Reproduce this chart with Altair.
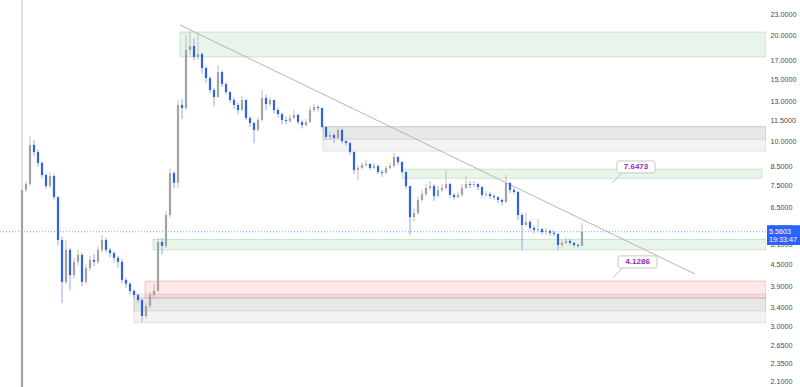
import altair as alt
import pandas as pd

# ---------------- candle data ----------------
close = [
    7.30, 7.59, 9.79, 9.35, 8.71, 8.05, 7.49, 8.00, 6.97, 5.27,
    4.01, 4.94, 4.19, 4.57, 4.78, 4.01, 4.39, 4.63, 4.57, 4.94,
    5.27, 4.94, 4.84, 4.69, 4.57, 4.06, 3.96, 3.78, 3.68, 3.56,
    3.21, 3.43, 3.68, 3.78, 5.20, 5.07, 6.20, 8.15, 7.65, 12.71,
    12.46, 18.19, 18.67, 17.38, 17.72, 16.17, 15.15, 14.01, 13.39, 15.75,
    14.58, 13.83, 13.13, 12.71, 12.30, 13.13, 11.68, 11.30, 10.80, 11.52,
    13.30, 12.79, 13.13, 12.30, 11.98, 11.52, 11.45, 11.68, 11.91, 11.37,
    11.15, 11.37, 12.30, 12.54, 12.46, 11.01, 10.32, 10.45, 10.25, 10.80,
    10.04, 9.91, 9.35, 8.32, 8.43, 8.59, 8.65, 8.43, 8.54, 8.21,
    8.16, 8.43, 8.54, 9.05, 8.76, 8.21, 7.49, 6.12, 6.28, 6.84,
    7.11, 7.40, 7.49, 7.02, 7.30, 7.40, 7.59, 7.07, 6.97, 7.07,
    7.40, 7.59, 7.54, 7.59, 7.44, 7.07, 7.11, 7.02, 6.97, 6.84,
    6.75, 7.64, 7.30, 7.21, 6.20, 5.81, 5.93, 5.70, 5.63, 5.66,
    5.55, 5.59, 5.52, 5.48, 5.10, 5.17, 5.24, 5.17, 5.10, 5.07,
    5.5603,
]
high = [
    30.0, 7.75, 10.35, 10.10, 9.50, 8.80, 8.15, 8.20, 8.10, 7.00,
    5.40, 5.25, 5.00, 4.70, 4.95, 4.85, 4.50, 4.75, 4.80, 5.05,
    5.45, 5.35, 5.00, 4.90, 4.75, 4.65, 4.12, 4.00, 3.82, 3.72,
    3.60, 3.50, 3.75, 3.95, 5.35, 5.35, 6.35, 8.40, 8.25, 13.10,
    13.20, 20.06, 20.60, 19.60, 20.40, 17.90, 16.40, 15.30, 14.20, 16.50,
    15.90, 14.70, 13.90, 13.30, 12.90, 13.50, 13.20, 11.80, 11.40, 11.70,
    14.00, 13.60, 13.40, 13.20, 12.50, 12.10, 11.80, 11.90, 12.30, 12.00,
    11.50, 11.60, 12.60, 12.80, 12.70, 12.50, 11.10, 10.70, 10.60, 11.00,
    10.90, 10.10, 10.00, 9.40, 8.60, 8.75, 8.90, 8.70, 8.70, 8.60,
    8.30, 8.55, 8.70, 9.30, 9.10, 8.80, 8.25, 7.50, 6.50, 7.00,
    7.30, 7.60, 7.75, 7.60, 7.50, 7.60, 8.30, 7.65, 7.15, 7.20,
    7.60, 8.00, 7.75, 7.75, 7.65, 7.50, 7.25, 7.20, 7.10, 7.00,
    6.90, 8.05, 7.70, 7.40, 7.25, 6.30, 6.30, 6.00, 5.80, 6.05,
    5.70, 5.70, 5.65, 5.60, 5.50, 5.30, 5.35, 5.30, 5.20, 5.15,
    5.89,
]
low = [
    1.00, 7.20, 7.50, 9.10, 8.50, 7.90, 7.35, 7.40, 6.85, 5.10,
    3.49, 3.95, 3.80, 4.10, 4.45, 3.90, 3.95, 4.30, 4.45, 4.50,
    4.85, 4.85, 4.70, 4.55, 4.40, 3.98, 3.85, 3.70, 3.60, 3.50,
    3.09, 3.15, 3.38, 3.60, 3.75, 4.80, 5.00, 6.10, 7.40, 7.40,
    11.60, 12.30, 17.60, 17.00, 17.10, 15.60, 14.70, 13.70, 12.60, 13.30,
    14.30, 13.60, 12.90, 12.40, 12.00, 12.20, 11.50, 11.00, 9.90, 10.70,
    11.40, 12.30, 12.60, 12.00, 11.70, 11.20, 11.20, 11.30, 11.60, 11.20,
    10.90, 11.00, 11.30, 12.10, 12.20, 10.90, 10.10, 10.10, 9.90, 10.20,
    9.90, 9.75, 9.20, 8.10, 7.80, 8.35, 8.50, 8.30, 8.35, 8.10,
    7.95, 8.10, 8.35, 8.45, 8.60, 8.10, 7.35, 5.44, 5.95, 6.20,
    6.75, 7.00, 7.30, 6.80, 6.95, 7.20, 7.30, 6.95, 6.85, 6.90,
    7.00, 7.35, 7.40, 7.45, 7.30, 6.95, 6.98, 6.90, 6.85, 6.70,
    6.60, 6.70, 7.15, 7.10, 6.00, 4.94, 5.75, 5.60, 5.50, 5.55,
    5.45, 5.45, 5.42, 5.40, 4.94, 5.02, 5.12, 5.10, 5.02, 5.00,
    5.05,
]
first_open = 2.0
last_price = 5.5603
last_time = "19:33:47"

# ---------------- drawings ----------------
zone_start = [39.5, 75.25, 75.25, 95.0, 32.75, 28.0, 28.0, 30.75]
zone_end = [186.0, 186.0, 186.0, 185.0, 186.0, 186.0, 186.0, 186.0]
zone_low = [17.38, 9.41, 10.16, 7.88, 4.94, 3.07, 3.32, 3.61]
zone_high = [20.45, 11.03, 11.03, 8.36, 5.29, 3.70, 3.61, 4.03]
zone_kind = ["green", "gray", "gray", "green", "green", "gray", "gray", "red"]

trend_i = [39.5, 168.25]
trend_p = [21.41, 4.22]

callout_text = ["7.6473", "4.1286"]
callout_tip_p = [7.6473, 4.1286]
callout_tip_i = [147.6, 147.75]
callout_tail_i = [150.0, 150.25]
callout_box_i0 = [148.75, 149.0]
callout_box_i1 = [158.25, 158.75]
callout_box_lo = [8.16, 4.39]
callout_box_hi = [8.82, 4.75]
callout_text_i = [153.5, 153.9]
callout_text_p = [8.48, 4.57]

y_ticks = [2.1, 2.35, 2.65, 3.0, 3.4, 3.9, 4.5, 5.1, 5.7, 6.5, 7.5, 8.5,
           10.0, 11.5, 13.0, 15.0, 17.0, 20.0, 23.0]

# ---------------- tables ----------------
opens = [first_open] + close[:-1]
candles = pd.DataFrame({"i": list(range(len(close))), "open": opens,
                        "close": close, "high": high, "low": low})
zones = pd.DataFrame({"s": zone_start, "e": zone_end, "lo": zone_low,
                      "hi": zone_high, "kind": zone_kind})
trend = pd.DataFrame({"i": trend_i, "p": trend_p})
callouts = pd.DataFrame({"t": callout_text, "tp": callout_tip_p, "ti": callout_tip_i,
                         "ai": callout_tail_i, "b0": callout_box_i0, "b1": callout_box_i1,
                         "blo": callout_box_lo, "bhi": callout_box_hi,
                         "xi": callout_text_i, "xp": callout_text_p})
price = pd.DataFrame({"p": [last_price], "label": [f"{last_price:.4f}"], "time": [last_time]})

W, H = 766, 387
xs = alt.Scale(domain=[-5.5, 186], nice=False, zero=False)
ys = alt.Scale(type="log", domain=[2.02, 25.2], nice=False)
Y_AXIS = alt.Axis(orient="right", values=y_ticks, format=".4f", title=None,
                  ticks=False, domain=False, grid=False, labelPadding=4,
                  labelOverlap=False, labelFontSize=7.2, labelColor="#4a4a4a",
                  labelFont="Liberation Sans")

def X(f):
    return alt.X(f, type="quantitative", scale=xs, axis=None)

def Y(f):
    return alt.Y(f, type="quantitative", scale=ys, axis=Y_AXIS)

kind_scale_fill = alt.Scale(domain=["green", "gray", "red"], range=["#4caf50", "#9a9a9a", "#f23645"])

zone_layer = alt.Chart(zones).mark_rect(fillOpacity=0.12, strokeOpacity=0.25, strokeWidth=1, clip=True).encode(
    x=X("s"), x2="e", y=Y("lo"), y2="hi",
    fill=alt.Fill("kind:N", scale=kind_scale_fill, legend=None),
    stroke=alt.Stroke("kind:N", scale=kind_scale_fill, legend=None),
)

trend_layer = alt.Chart(trend).mark_line(color="#b5b5b5", strokeWidth=1, clip=True).encode(
    x=X("i"), y=Y("p"))

price_line = alt.Chart(price).mark_rule(color="#2962ff", strokeDash=[1, 2], strokeWidth=1, opacity=0.6).encode(
    y=Y("p"), x=alt.value(0), x2=alt.value(W))

up = "datum.close >= datum.open"
wicks = alt.Chart(candles).mark_rule(strokeWidth=1, clip=True).encode(
    x=X("i"), y=Y("low"), y2="high",
    color=alt.condition(up, alt.value("#bdbdbd"), alt.value("#8ea8ee")))
bodies = alt.Chart(candles).mark_rule(strokeWidth=2.2, clip=True, strokeCap="butt").encode(
    x=X("i"), y=Y("open"), y2="close",
    color=alt.condition(up, alt.value("#a3a3a3"), alt.value("#2f62e0")))

tails = alt.Chart(callouts).mark_rule(color="#bdbdbd", strokeWidth=1).encode(
    x=X("ai"), x2="ti", y=Y("blo"), y2="tp")
boxes = alt.Chart(callouts).mark_rect(fill="white", stroke="#c8c8c8", strokeWidth=1, cornerRadius=2).encode(
    x=X("b0"), x2="b1", y=Y("blo"), y2="bhi")
box_text = alt.Chart(callouts).mark_text(color="#9c27b0", fontSize=8, fontWeight="bold",
                                          font="Liberation Sans").encode(
    x=X("xi"), y=Y("xp"), text="t:N")

price_box = alt.Chart(price).mark_point(
    shape="M0,-0.2 L1,-0.2 L1,0.4 L0,0.4 Z", size=4356, filled=True, opacity=1,
    color="#2962ff", strokeWidth=0).encode(x=alt.value(767), y=Y("p"))
price_txt = alt.Chart(price).mark_text(color="white", fontSize=7.2, align="left", dy=0,
                                       font="Liberation Sans").encode(
    x=alt.value(769), y=Y("p"), text="label:N")
time_txt = alt.Chart(price).mark_text(color="white", fontSize=7.2, align="left", dy=8,
                                      font="Liberation Sans").encode(
    x=alt.value(769), y=Y("p"), text="time:N")

chart = alt.layer(
    zone_layer, trend_layer, price_line, wicks, bodies, tails, boxes, box_text,
    price_box, price_txt, time_txt
).properties(
    width=W, height=H,
    padding={"left": 0, "top": 0, "right": 34, "bottom": 0},
    autosize=alt.AutoSizeParams(type="none"),
    background="white",
).configure_view(strokeWidth=0)

chart.save("out.html", embed_options={"renderer": "svg", "actions": False})
